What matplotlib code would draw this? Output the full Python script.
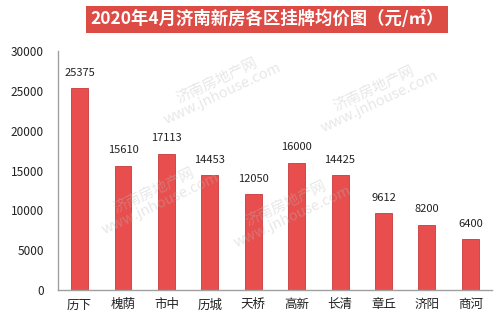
import matplotlib.pyplot as plt
import numpy as np

plt.rcParams['font.family'] = ['Noto Sans CJK SC', 'DejaVu Sans']

districts = ["历下", "槐荫", "市中", "历城", "天桥", "高新", "长清", "章丘", "济阳", "商河"]
prices = [25375, 15610, 17113, 14453, 12050, 16000, 14425, 9612, 8200, 6400]
yticks = [0, 5000, 10000, 15000, 20000, 25000, 30000]

fig = plt.figure(figsize=(4.99, 3.23), dpi=100)
ax = fig.add_axes([0.116, 0.102, 0.870, 0.740])

x = np.arange(len(districts))
ax.bar(x, prices, width=0.39, color='#E84E4E', edgecolor='#C93A3A', linewidth=0.6, zorder=2)

for xi, v in zip(x, prices):
    ax.text(xi, v + 1300, str(v), ha='center', va='bottom', fontsize=8, color='#222222')

ax.set_xlim(-0.5, 9.5)
ax.set_ylim(0, 30000)
ax.set_yticks(yticks)
ax.set_yticklabels([str(t) for t in yticks], fontsize=8.5, color='#222222')
ax.set_xticks(x)
ax.set_xticklabels(districts, fontsize=9, color='#222222')
ax.tick_params(axis='both', length=0, pad=6)
ax.tick_params(axis='y', pad=10)

for s in ['top', 'right']:
    ax.spines[s].set_visible(False)
for s in ['left', 'bottom']:
    ax.spines[s].set_color('#A0A0A0')
    ax.spines[s].set_linewidth(1.0)

# faint watermarks
for (wx, wy) in [(0.44, 0.73), (0.755, 0.706), (0.315, 0.39), (0.58, 0.35)]:
    fig.text(wx, wy, "济南房地产网\nwww.jnhouse.com", fontsize=10.5, color='#BBBBBB', alpha=0.35,
             rotation=25, ha='center', va='center', linespacing=1.0, zorder=5)

fig.text(0.535, 0.94, "2020年4月济南新房各区挂牌均价图（元/㎡）", ha='center', va='center',
         fontsize=12.5, fontweight='bold', color='white',
         bbox=dict(boxstyle='square,pad=0.25', facecolor='#DD4B45', edgecolor='none'))

fig.savefig("out.png", dpi=100)
